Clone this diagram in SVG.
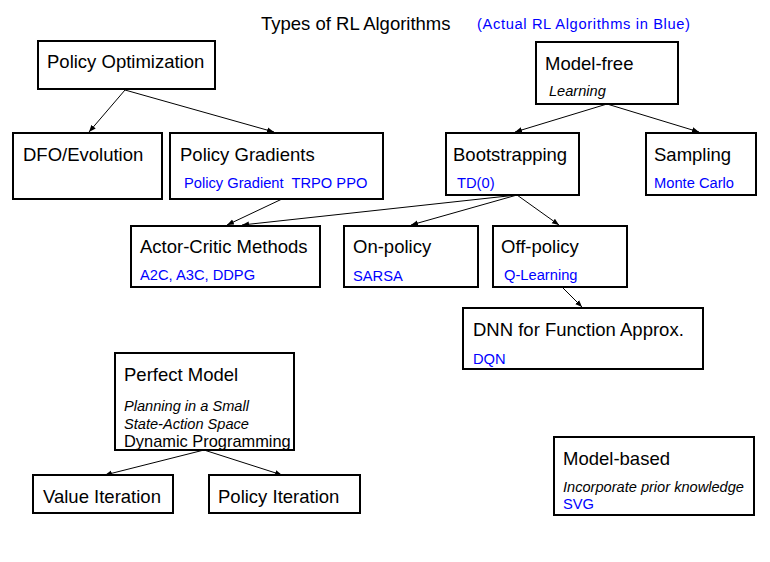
<svg xmlns="http://www.w3.org/2000/svg" width="770" height="562" viewBox="0 0 770 562">
<style>
.box{fill:#fff;stroke:#000;stroke-width:2}
.t{font-family:"Liberation Sans",Arial,sans-serif;font-size:18.5px;fill:#000}
.b{font-family:"Liberation Sans",Arial,sans-serif;font-size:14.7px;fill:#0000ff}
.i{font-family:"Liberation Sans",Arial,sans-serif;font-size:14.6px;font-style:italic;fill:#000}
.s{font-family:"Liberation Sans",Arial,sans-serif;font-size:16.4px;fill:#000}
.c{stroke:#000;stroke-width:1;fill:none;marker-end:url(#ah)}
</style>
<defs>
<marker id="ah" viewBox="0 0 10 10" refX="10" refY="5" markerWidth="7" markerHeight="7" markerUnits="userSpaceOnUse" orient="auto">
<path d="M0,1 L10,5 L0,9 z" fill="#000"/>
</marker>
</defs>
<rect width="770" height="562" fill="#fff"/>
<g id="title">
<text class="t" x="261" y="30" font-size="18.8px">Types of RL Algorithms</text>
<text class="b" x="477" y="29" font-size="16px" textLength="213" lengthAdjust="spacing">(Actual RL Algorithms in Blue)</text>
</g>
<g id="connectors">
<line class="c" x1="125" y1="90" x2="89" y2="132"/>
<line class="c" x1="125" y1="90" x2="274" y2="132"/>
<line class="c" x1="607" y1="104" x2="515" y2="132"/>
<line class="c" x1="607" y1="104" x2="699" y2="132"/>
<line class="c" x1="282" y1="199" x2="227" y2="225"/>
<line class="c" x1="517" y1="195" x2="242" y2="225"/>
<line class="c" x1="517" y1="195" x2="411" y2="225"/>
<line class="c" x1="517" y1="195" x2="559" y2="225"/>
<line class="c" x1="562" y1="287" x2="582" y2="307"/>
<line class="c" x1="204" y1="450" x2="105" y2="475"/>
<line class="c" x1="204" y1="450" x2="282" y2="475"/>
</g>
<g id="policy-optimization">
<rect class="box" x="38" y="41" width="177" height="48"/>
<text class="t" x="47" y="68">Policy Optimization</text>
</g>
<g id="dfo-evolution">
<rect class="box" x="13" y="133" width="149" height="66"/>
<text class="t" x="23" y="161">DFO/Evolution</text>
</g>
<g id="policy-gradients">
<rect class="box" x="170" y="133" width="213" height="66"/>
<text class="t" x="180" y="161">Policy Gradients</text>
<text class="b" x="184" y="188" xml:space="preserve">Policy Gradient  TRPO PPO</text>
</g>
<g id="model-free">
<rect class="box" x="536" y="42" width="142" height="62"/>
<text class="t" x="545" y="70">Model-free</text>
<text class="i" x="549" y="96">Learning</text>
</g>
<g id="bootstrapping">
<rect class="box" x="446" y="133" width="133" height="62"/>
<text class="t" x="453" y="161">Bootstrapping</text>
<text class="b" x="457" y="188">TD(0)</text>
</g>
<g id="sampling">
<rect class="box" x="646" y="133" width="110" height="62"/>
<text class="t" x="654" y="161">Sampling</text>
<text class="b" x="654" y="188">Monte Carlo</text>
</g>
<g id="actor-critic">
<rect class="box" x="131" y="226" width="189" height="61"/>
<text class="t" x="140" y="253">Actor-Critic Methods</text>
<text class="b" x="140" y="280">A2C, A3C, DDPG</text>
</g>
<g id="on-policy">
<rect class="box" x="344" y="226" width="134" height="61"/>
<text class="t" x="353" y="253">On-policy</text>
<text class="b" x="353" y="281">SARSA</text>
</g>
<g id="off-policy">
<rect class="box" x="493" y="226" width="134" height="61"/>
<text class="t" x="501" y="253">Off-policy</text>
<text class="b" x="504" y="280">Q-Learning</text>
</g>
<g id="dnn">
<rect class="box" x="463" y="308" width="240" height="61"/>
<text class="t" x="473" y="336">DNN for Function Approx.</text>
<text class="b" x="473" y="364">DQN</text>
</g>
<g id="perfect-model">
<rect class="box" x="115" y="353" width="179" height="97"/>
<text class="t" x="124" y="381">Perfect Model</text>
<text class="i" x="124" y="411">Planning in a Small</text>
<text class="i" x="124" y="429">State-Action Space</text>
<text class="s" x="124" y="447">Dynamic Programming</text>
</g>
<g id="value-iteration">
<rect class="box" x="33" y="475" width="140" height="38"/>
<text class="t" x="43" y="503">Value Iteration</text>
</g>
<g id="policy-iteration">
<rect class="box" x="209" y="475" width="151" height="38"/>
<text class="t" x="218" y="503">Policy Iteration</text>
</g>
<g id="model-based">
<rect class="box" x="554" y="437" width="200" height="78"/>
<text class="t" x="563" y="465">Model-based</text>
<text class="i" x="563" y="492">Incorporate prior knowledge</text>
<text class="b" x="563" y="509">SVG</text>
</g>
</svg>
